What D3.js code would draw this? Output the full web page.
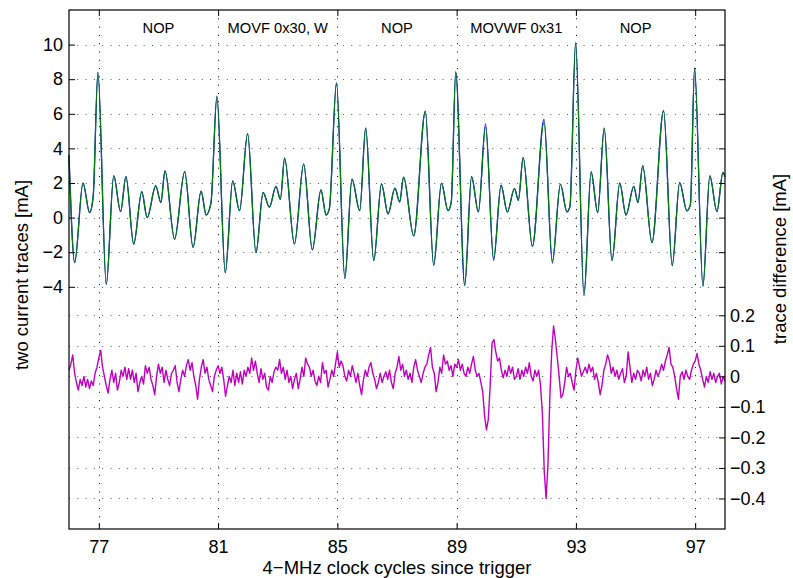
<!DOCTYPE html>
<html>
<head>
<meta charset="utf-8">
<script src="https://cdn.jsdelivr.net/npm/d3@7"></script>
<style>
  body { margin: 0; background: #fff; }
  svg { display: block; font-family: "Liberation Sans", Arial, sans-serif; }
  .tick line { stroke: #000; }
  .tick text { font-size: 18px; fill: #000; }
</style>
</head>
<body>
<div id="chart"></div>
<script>
// x axis: clock cycles since trigger
var cycleTicks = [77, 81, 85, 89, 93, 97];
var leftTicks = [-4, -2, 0, 2, 4, 6, 8, 10];
var rightTicks = [-0.4, -0.3, -0.2, -0.1, 0, 0.1, 0.2];

var instrNames = ["NOP", "MOVF 0x30, W", "NOP", "MOVWF 0x31", "NOP"];
var instrCenters = [79, 83, 87, 91, 95];

// turning points of the two current traces
var traceT = [76.00, 76.19, 76.47, 76.69, 76.81, 76.97, 77.25, 77.50, 77.73, 77.91,
  78.17, 78.44, 78.62, 78.91, 79.08, 79.22, 79.54, 79.88, 80.16, 80.43,
  80.60, 80.76, 80.96, 81.24, 81.49, 81.72, 81.99, 82.27, 82.51, 82.72,
  82.94, 83.09, 83.23, 83.56, 83.87, 84.16, 84.45, 84.62, 84.73, 84.97,
  85.25, 85.49, 85.75, 85.95, 86.22, 86.48, 86.70, 86.93, 87.09, 87.22,
  87.56, 87.95, 88.23, 88.49, 88.71, 88.82, 88.97, 89.27, 89.50, 89.73,
  89.97, 90.24, 90.49, 90.70, 90.94, 91.07, 91.23, 91.54, 91.93, 92.21,
  92.48, 92.70, 92.80, 92.99, 93.27, 93.51, 93.73, 93.95, 94.21, 94.47,
  94.68, 94.94, 95.08, 95.24, 95.55, 95.94, 96.23, 96.48, 96.72, 96.84,
  96.98, 97.26, 97.49, 97.73, 97.93, 98.00];

var traceGreen = [3.6, -2.6, 2.0, 0.29, 1.2, 8.4, -3.86, 2.41, 0.35, 2.37,
  -1.53, 1.5, 0.0, 1.83, 0.87, 2.7, -1.25, 2.66, -1.72, 1.53,
  0.15, 0.83, 7.0, -3.19, 2.12, 0.4, 4.85, -2.03, 1.45, 0.6,
  1.8, 1.06, 3.44, -1.53, 3.1, -1.87, 1.6, 0.15, 0.5, 7.78,
  -3.51, 2.22, 0.4, 5.17, -2.49, 1.95, 0.21, 1.7, 0.93, 2.34,
  -1.06, 6.14, -2.76, 1.99, 0.4, 0.9, 8.42, -3.92, 2.36, 0.33,
  5.25, -2.35, 1.87, 0.33, 1.68, 1.0, 3.47, -1.66, 5.5, -2.5,
  1.93, 0.33, 0.65, 10.1, -4.5, 2.64, 0.29, 5.17, -2.49, 1.99,
  0.15, 1.8, 0.87, 2.99, -1.45, 6.18, -2.78, 2.03, 0.39, 0.75,
  8.65, -3.96, 2.41, 0.35, 2.6, 2.37];

var traceBlue = [3.6, -2.6, 2.0, 0.29, 1.2, 8.4, -3.86, 2.41, 0.35, 2.37,
  -1.53, 1.5, 0.0, 1.83, 0.87, 2.7, -1.25, 2.66, -1.72, 1.53,
  0.15, 0.83, 7.0, -3.19, 2.12, 0.4, 4.85, -2.03, 1.45, 0.6,
  1.8, 1.06, 3.44, -1.53, 3.1, -1.87, 1.6, 0.15, 0.5, 7.78,
  -3.51, 2.22, 0.4, 5.17, -2.49, 1.95, 0.21, 1.7, 0.9, 2.34,
  -1.06, 6.14, -2.76, 1.99, 0.4, 0.9, 8.42, -3.92, 2.36, 0.33,
  5.42, -2.47, 1.87, 0.33, 1.68, 1.0, 3.47, -1.66, 5.68, -2.62,
  1.93, 0.33, 0.65, 10.1, -4.5, 2.64, 0.29, 5.17, -2.49, 1.99,
  0.15, 1.8, 0.87, 2.99, -1.45, 6.18, -2.78, 2.03, 0.39, 0.75,
  8.65, -3.96, 2.41, 0.35, 2.6, 2.37];

// trace difference, one sample every 1/16 clock cycle from cycle 76
var diffStart = 76, diffStep = 1 / 16;
var diffValues = [
  0.02, 0.04, 0.07, 0.01, -0.02, -0.045, -0.01, -0.03, 0.00, -0.035, -0.01, -0.04, -0.015, -0.03, 0.01, 0.03,
  0.06, 0.085, 0.03, 0.00, -0.03, -0.055, -0.01, 0.02, -0.02, 0.01, -0.045, -0.02, 0.02, 0.00, 0.03, -0.01,
  0.025, -0.01, 0.02, -0.02, 0.01, -0.05, -0.02, 0.00, -0.025, 0.035, 0.01, 0.03, -0.01, -0.03, -0.06, 0.00,
  0.04, 0.01, 0.03, -0.02, 0.02, -0.01, -0.03, 0.01, 0.02, 0.035, -0.02, -0.05, -0.01, 0.02, 0.00, 0.035,
  0.055, 0.02, 0.045, 0.00, -0.03, -0.075, -0.01, 0.03, 0.055, 0.01, 0.03, -0.01, -0.03, -0.05, 0.00, 0.02,
  0.035, 0.01, 0.03, -0.01, -0.065, -0.03, 0.00, -0.02, 0.02, -0.03, 0.01, -0.02, 0.015, -0.025, 0.02, 0.00,
  0.03, 0.01, 0.06, 0.02, 0.05, 0.01, -0.02, 0.025, -0.01, 0.01, -0.035, -0.045, 0.00, -0.02, 0.015, 0.03,
  0.02, 0.055, 0.01, 0.03, -0.01, 0.02, -0.02, 0.00, -0.04, -0.01, 0.01, -0.04, -0.01, 0.03, 0.00, 0.06,
  0.04, 0.03, 0.00, 0.02, -0.015, -0.03, 0.00, -0.02, 0.045, 0.01, 0.02, -0.035, -0.01, 0.02, 0.00, 0.04,
  0.08, 0.03, 0.05, 0.035, 0.00, -0.015, 0.02, 0.00, 0.035, 0.01, -0.02, 0.01, -0.03, -0.06, -0.01, 0.02,
  0.00, 0.03, 0.045, 0.01, -0.01, -0.04, -0.02, 0.01, -0.02, 0.00, 0.015, -0.01, 0.02, -0.02, -0.04, 0.01,
  0.03, 0.065, 0.02, 0.04, 0.00, 0.02, -0.01, 0.01, -0.02, 0.03, 0.055, 0.02, 0.00, -0.02, 0.01, 0.03,
  0.04, 0.07, 0.095, 0.03, 0.01, -0.05, -0.02, 0.03, 0.01, 0.07, 0.04, 0.05, 0.02, 0.035, 0.00, 0.04,
  0.03, 0.055, 0.02, 0.04, 0.01, 0.00, 0.03, 0.01, 0.04, 0.065, 0.02, 0.00, 0.01, -0.02, -0.05, -0.13,
  -0.175, -0.14, -0.03, 0.11, 0.12, 0.08, 0.05, 0.06, 0.02, -0.005, 0.02, 0.00, 0.035, 0.01, 0.03, -0.01,
  0.00, 0.025, -0.01, 0.02, 0.00, 0.03, 0.01, 0.045, 0.00, -0.015, 0.02, 0.00, 0.02, -0.03, -0.12, -0.31,
  -0.40, -0.29, -0.07, 0.08, 0.165, 0.12, 0.06, 0.00, -0.07, -0.06, -0.02, 0.03, 0.00, 0.01, -0.02, -0.045,
  0.02, 0.06, 0.03, 0.00, 0.015, 0.03, 0.01, 0.04, 0.015, 0.03, -0.01, 0.01, -0.02, -0.06, -0.03, 0.02,
  0.04, 0.07, 0.05, 0.01, 0.03, 0.00, 0.02, -0.01, 0.01, 0.025, -0.02, 0.00, 0.08, 0.03, -0.02, 0.01,
  -0.01, 0.02, 0.01, -0.015, 0.02, 0.00, 0.03, -0.01, 0.01, -0.03, -0.01, 0.02, 0.00, 0.015, 0.04, 0.02,
  0.05, 0.07, 0.095, 0.04, 0.03, 0.00, -0.04, -0.075, 0.00, 0.015, -0.01, 0.02, 0.00, -0.01, 0.02, 0.04,
  0.05, 0.075, 0.04, 0.02, -0.01, -0.035, 0.00, -0.02, 0.015, -0.01, 0.01, -0.02, 0.00, 0.01, -0.025, 0.00,
  -0.015];

var W = 793, H = 578;
var margin = {top: 10, right: 68, bottom: 49, left: 69},
  width = W - margin.left - margin.right,
  height = H - margin.top - margin.bottom;

var x = d3.scaleLinear().domain([76, 98]).range([0, width]),
  yL = d3.scaleLinear().domain([-18, 12]).range([height, 0]),
  yR = d3.scaleLinear().domain([-0.5, 1.2]).range([height, 0]);

var svg = d3.select("#chart").append("svg")
  .attr("width", W).attr("height", H)
  .append("g")
  .attr("transform", "translate(" + margin.left + "," + margin.top + ")");

// dotted grid
var grid = svg.append("g").attr("fill", "none").attr("stroke", "#000")
  .attr("stroke-width", 1).attr("stroke-dasharray", "1,7.3");
grid.selectAll(".gx").data(cycleTicks).enter().append("line")
  .attr("x1", function(d) { return Math.round(x(d)) + 0.5; })
  .attr("x2", function(d) { return Math.round(x(d)) + 0.5; })
  .attr("y1", 0).attr("y2", height);
grid.selectAll(".gl").data(leftTicks).enter().append("line")
  .attr("stroke", "#555")
  .attr("y1", function(d) { return Math.round(yL(d)) + 0.5; })
  .attr("y2", function(d) { return Math.round(yL(d)) + 0.5; })
  .attr("x1", 0).attr("x2", width);
grid.selectAll(".gr").data(rightTicks).enter().append("line")
  .attr("stroke", "#555")
  .attr("y1", function(d) { return Math.round(yR(d)) + 0.5; })
  .attr("y2", function(d) { return Math.round(yR(d)) + 0.5; })
  .attr("x1", 0).attr("x2", width);

// current traces
var traceLine = function(vals) {
  return d3.line()
    .x(function(d, i) { return x(traceT[i]); })
    .y(function(d) { return yL(d); })
    .curve(d3.curveMonotoneX)(vals);
};
svg.append("path").attr("d", traceLine(traceBlue))
  .attr("fill", "none").attr("stroke", "#0000ff").attr("stroke-width", 1.3);
svg.append("path").attr("d", traceLine(traceGreen))
  .attr("fill", "none").attr("stroke", "#008000").attr("stroke-width", 1.15);

// difference trace
var diffLine = d3.line()
  .x(function(d, i) { return x(diffStart + i * diffStep); })
  .y(function(d) { return yR(d); });
svg.append("path").attr("d", diffLine(diffValues))
  .attr("fill", "none").attr("stroke", "#bf00bf").attr("stroke-width", 1.4)
  .attr("stroke-linejoin", "round");

// axes
svg.append("g").attr("class", "axis")
  .attr("transform", "translate(0," + height + ")")
  .call(d3.axisBottom(x).tickValues(cycleTicks).tickSizeInner(-6).tickSizeOuter(0).tickPadding(11));
svg.append("g").attr("class", "axis")
  .call(d3.axisTop(x).tickValues(cycleTicks).tickSizeInner(-6).tickSizeOuter(0).tickFormat(""));
svg.append("g").attr("class", "axis")
  .call(d3.axisLeft(yL).tickValues(leftTicks).tickSizeInner(-6).tickSizeOuter(0).tickPadding(6)
    .tickFormat(d3.format("d")));
svg.append("g").attr("class", "axis")
  .attr("transform", "translate(" + width + ",0)")
  .call(d3.axisRight(yL).tickValues(leftTicks).tickSizeInner(-6).tickSizeOuter(0).tickFormat(""));
svg.append("g").attr("class", "axis")
  .attr("transform", "translate(" + width + ",0)")
  .call(d3.axisRight(yR).tickValues(rightTicks).tickSizeInner(-6).tickSizeOuter(0).tickPadding(5)
    .tickFormat(function(d) { return d === 0 ? "0" : d3.format(".1f")(d); }));
svg.selectAll(".axis .domain").remove();

svg.append("rect").attr("x", 0).attr("y", 0).attr("width", width).attr("height", height)
  .attr("fill", "none").attr("stroke", "#000").attr("stroke-width", 1.2);

// instruction names
svg.selectAll(".instr").data(instrNames).enter().append("text")
  .attr("x", function(d, i) { return x(instrCenters[i]); })
  .attr("y", 23)
  .attr("text-anchor", "middle")
  .style("font-size", "14.7px")
  .text(function(d) { return d; });

// axis titles
svg.append("text")
  .attr("x", width / 2).attr("y", height + 45)
  .attr("text-anchor", "middle").style("font-size", "18.5px")
  .text("4\u2212MHz clock cycles since trigger");
svg.append("text")
  .attr("transform", "translate(" + (-41) + "," + 265 + ") rotate(-90)")
  .attr("text-anchor", "middle").style("font-size", "18.5px")
  .text("two current traces [mA]");
svg.append("text")
  .attr("transform", "translate(" + (width + 61) + "," + 249 + ") rotate(-90)")
  .attr("text-anchor", "middle").style("font-size", "18.5px")
  .text("trace difference [mA]");
</script>
</body>
</html>
